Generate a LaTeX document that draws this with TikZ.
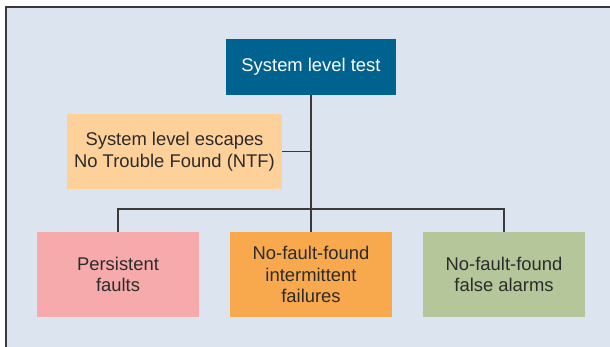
\documentclass[tikz,border=0pt]{standalone}
\usepackage{fontspec}
\setmainfont{Liberation Sans}
\definecolor{bg}{HTML}{DCE5EF}
\definecolor{topc}{HTML}{00628F}
\definecolor{ntfc}{HTML}{FFD19A}
\definecolor{pinkc}{HTML}{F7AAAB}
\definecolor{orc}{HTML}{F9A94D}
\definecolor{grc}{HTML}{B5C79A}
\definecolor{txt}{HTML}{2B2B2B}
\definecolor{ln}{HTML}{3A3A3A}
\begin{document}
\begin{tikzpicture}[x=1pt,y=-1pt,
  box/.style={draw=none,inner sep=0pt,align=center,text=txt,
    font=\fontsize{18.4}{21.5}\selectfont},
  conn/.style={draw=ln,line width=1.4pt}]
\useasboundingbox (0,0) rectangle (610,346);
\clip (0,0) rectangle (610,346);
\fill[white] (0,0) rectangle (610,346);
\fill[bg] (5.8,6.8) rectangle (620,360);
\draw[ln,line width=1.6pt] (5.8,360) -- (5.8,6.8) -- (620,6.8);
\node[box,fill=topc,text=white,minimum width=170pt,minimum height=56pt] (top) at (311,67) {System level test};
\node[box,fill=ntfc,minimum width=215pt,minimum height=75pt] (ntf) at (174.5,151.5) {System level escapes\\No Trouble Found (NTF)};
\node[box,fill=pinkc,minimum width=162pt,minimum height=85pt] (p) at (118,274.5) {Persistent\\faults};
\node[box,fill=orc,minimum width=162pt,minimum height=85pt] (o) at (311,274.5) {No-fault-found\\intermittent\\failures};
\node[box,fill=grc,minimum width=162pt,minimum height=85pt] (g) at (504,274.5) {No-fault-found\\false alarms};
\coordinate (j) at (311,209);
\draw[conn] (top.south) -- (j);
\draw[conn] (ntf.east) -- (ntf.east -| j);
\draw[conn] (p.north) |- (j) -| (g.north);
\draw[conn] (j) -- (o.north);
\end{tikzpicture}
\end{document}
